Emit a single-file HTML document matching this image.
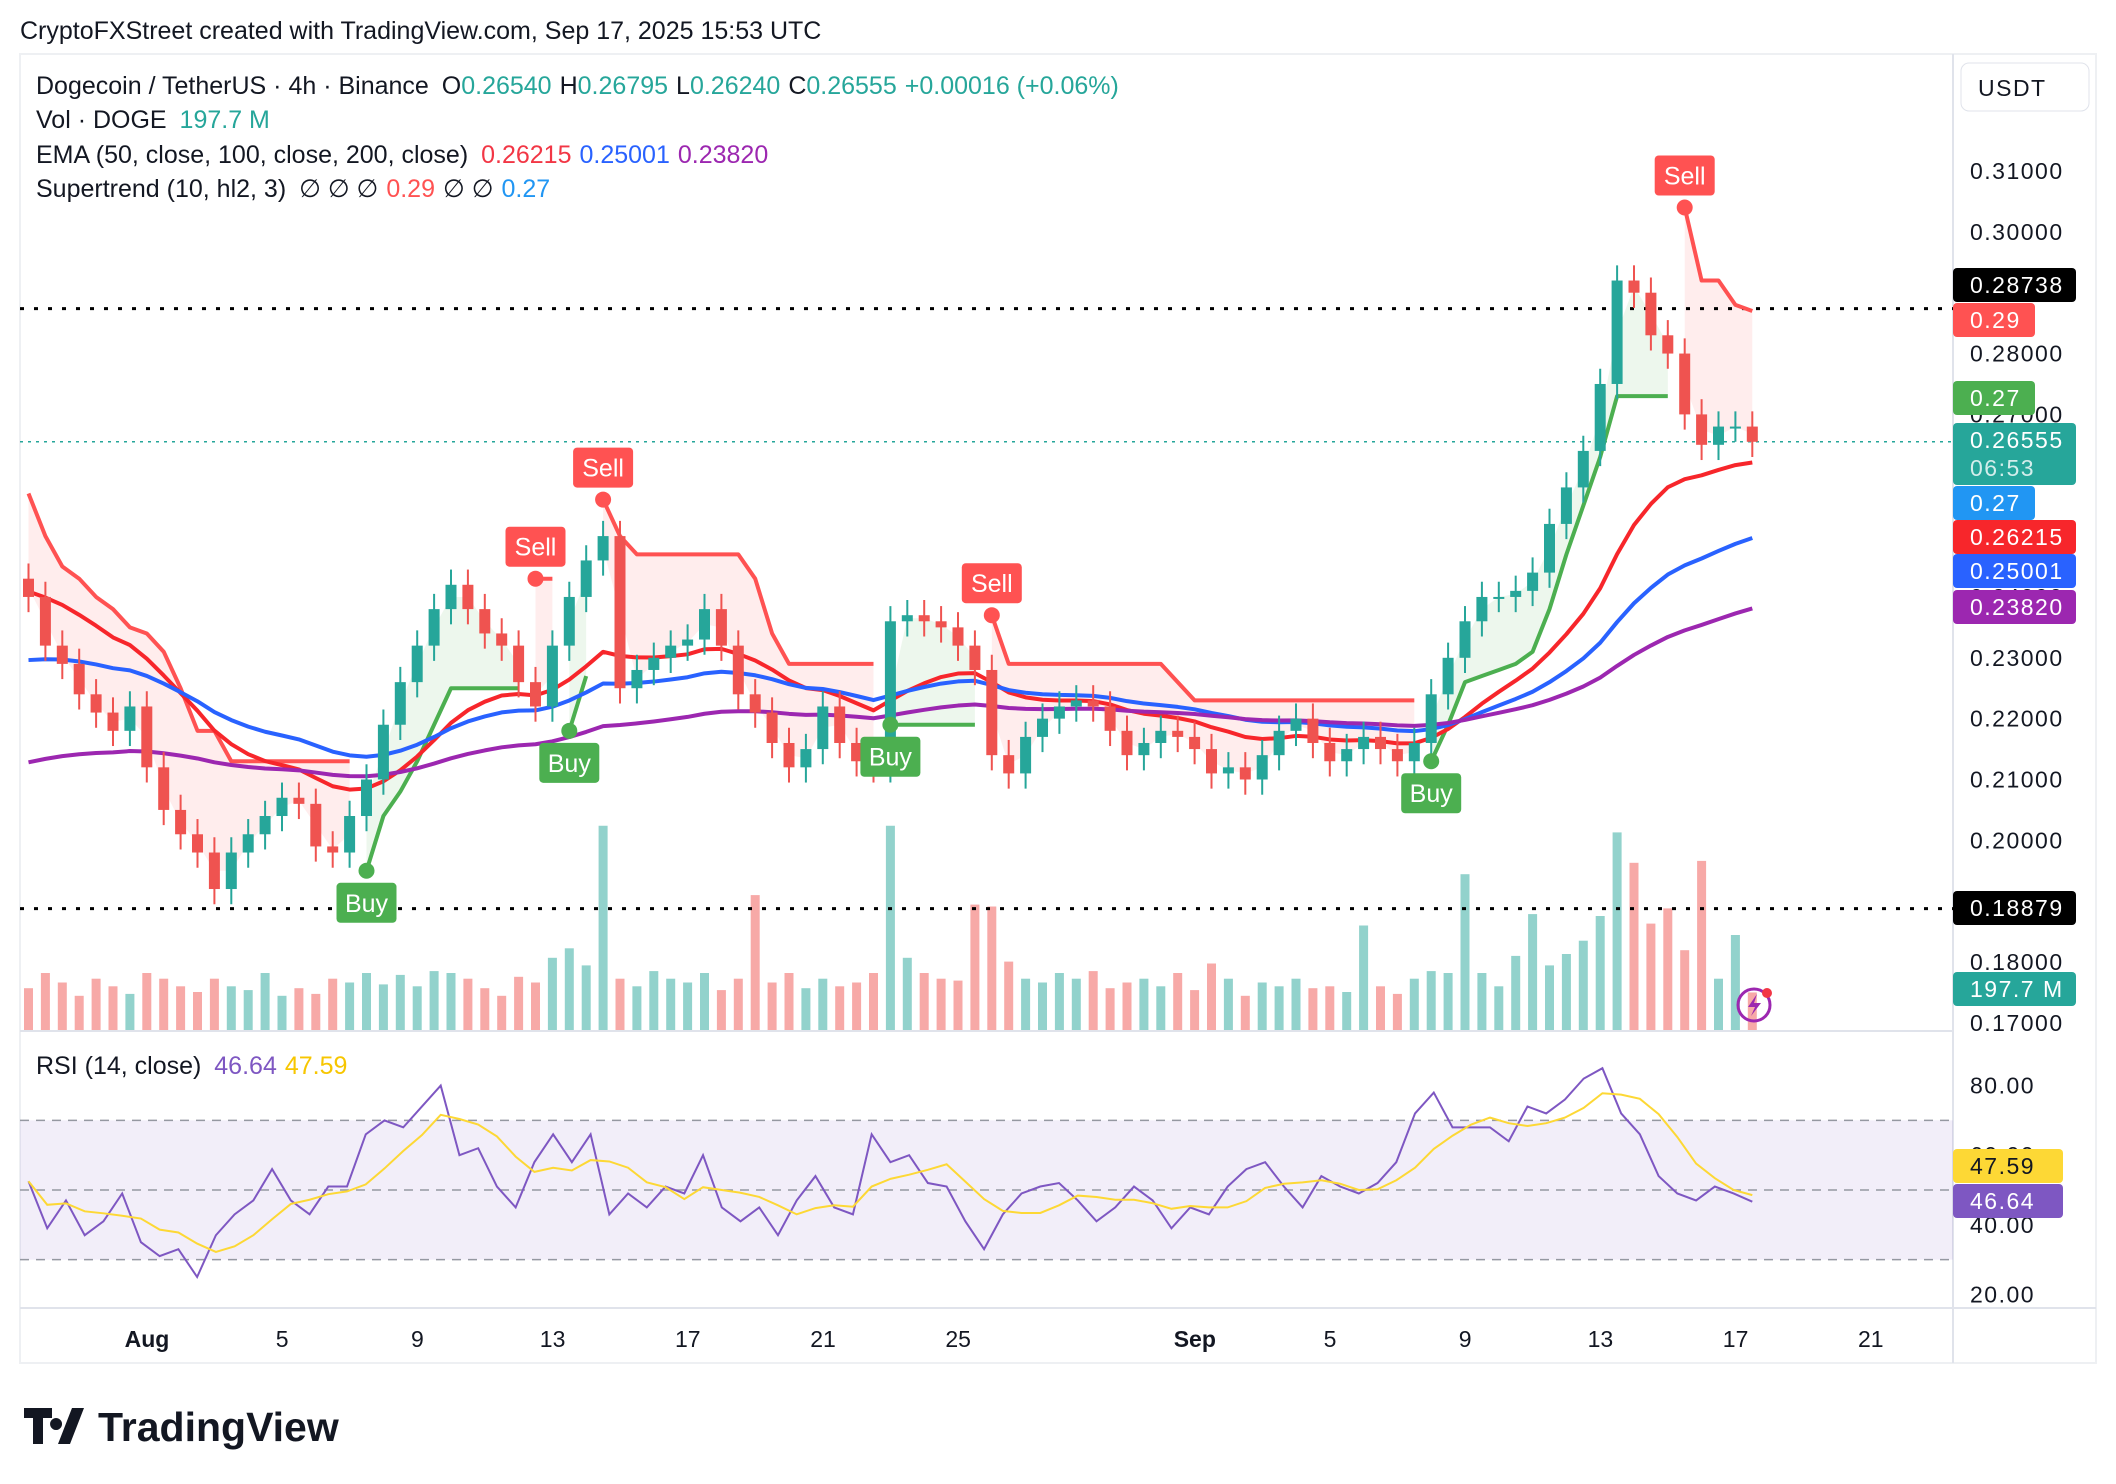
<!DOCTYPE html>
<html><head><meta charset="utf-8"><style>
html,body{margin:0;padding:0;background:#fff;}
svg{display:block;font-family:"Liberation Sans",sans-serif;}
</style></head><body>
<svg id="chart" width="2116" height="1484" viewBox="0 0 2116 1484">
<text x="20" y="39" font-size="25" fill="#131722">CryptoFXStreet created with TradingView.com, Sep 17, 2025 15:53 UTC</text>
<rect x="20" y="54" width="2076" height="1309" fill="#fff" stroke="#eef0f3" stroke-width="2"/>
<line x1="1953" y1="54" x2="1953" y2="1363" stroke="#e0e3eb" stroke-width="2"/>
<line x1="20" y1="1031" x2="1953" y2="1031" stroke="#e0e3eb" stroke-width="2"/>
<line x1="20" y1="1308" x2="2096" y2="1308" stroke="#e0e3eb" stroke-width="2"/>
<g id="rsiBg"></g>
<g id="vol"></g>
<g id="stFill"></g>
<g id="lines"></g>
<g id="candles"></g>
<g id="sig"></g>
<g id="rsi"></g>
<g id="axis"></g>
<g id="legend" font-size="25">
<text x="36" y="94" fill="#131722">Dogecoin / TetherUS · 4h · Binance <tspan dx="6">O</tspan><tspan fill="#26a69a">0.26540</tspan><tspan dx="8">H</tspan><tspan fill="#26a69a">0.26795</tspan><tspan dx="8">L</tspan><tspan fill="#26a69a">0.26240</tspan><tspan dx="8">C</tspan><tspan fill="#26a69a">0.26555</tspan><tspan dx="8" fill="#26a69a">+0.00016 (+0.06%)</tspan></text>
<text x="36" y="128" fill="#131722">Vol · DOGE <tspan dx="6" fill="#26a69a">197.7 M</tspan></text>
<text x="36" y="163" fill="#131722">EMA (50, close, 100, close, 200, close) <tspan dx="6" fill="#f23645">0.26215</tspan><tspan dx="8" fill="#2962ff">0.25001</tspan><tspan dx="8" fill="#9c27b0">0.23820</tspan></text>
<text x="36" y="197" fill="#131722">Supertrend (10, hl2, 3) <tspan dx="6">∅ ∅ ∅</tspan><tspan dx="8" fill="#ff5252">0.29</tspan><tspan dx="8">∅ ∅</tspan><tspan dx="8" fill="#2196f3">0.27</tspan></text>
<text x="36" y="1074" fill="#131722">RSI (14, close) <tspan dx="6" fill="#7e57c2">46.64</tspan><tspan dx="8" fill="#f7c600">47.59</tspan></text>
</g>
<g>
<rect x="1961" y="63" width="128" height="48" rx="8" fill="#fff" stroke="#e0e3eb"/>
<text x="1978" y="96" font-size="23" letter-spacing="1.5" fill="#131722">USDT</text>
</g>
<g>
<path d="M24 1408h28v10h-9v26h-10v-26h-9z M56 1418a6 6 0 1 0 0.1 0z M72 1408h12l-14 36h-12z" fill="#131722"/>
<text x="98" y="1441" font-size="41" font-weight="bold" fill="#131722">TradingView</text>
</g>
<g>
<circle cx="1754" cy="1005" r="16" fill="none" stroke="#9c27b0" stroke-width="3"/>
<path d="M1757 994l-9 13h7l-4 9 10-13h-7z" fill="#9c27b0"/>
<circle cx="1767" cy="993" r="5" fill="#f23645"/>
</g>
</svg>
<script>
// ---- data (12h resolution, start Jul 28 06:00) ----
const closes=[0.240,0.232,0.229,0.224,0.221,0.218,0.222,0.212,0.205,0.201,0.198,0.192,0.198,0.201,0.204,0.207,0.206,0.199,0.198,0.204,
0.210,0.219,0.226,0.232,0.238,0.242,0.238,0.234,0.232,0.226,0.222,0.232,0.240,0.246,0.250,0.225,0.228,0.230,0.232,0.233,
0.238,0.232,0.224,0.221,0.216,0.212,0.215,0.222,0.216,0.213,0.212,0.236,0.237,0.236,0.235,0.232,0.228,0.214,0.211,0.217,
0.220,0.222,0.223,0.222,0.218,0.214,0.216,0.218,0.217,0.215,0.211,0.212,0.210,0.214,0.218,0.220,0.216,0.213,0.215,0.217,
0.215,0.213,0.216,0.224,0.230,0.236,0.240,0.240,0.241,0.244,0.252,0.258,0.264,0.275,0.292,0.290,0.283,0.280,0.270,0.265,
0.268,0.268,0.2655];
const firstOpen=0.243;
const volumes=[220,300,250,180,270,230,190,300,270,230,200,270,230,210,300,180,220,190,270,250,
300,240,290,230,310,300,270,220,180,280,250,380,430,340,1075,270,230,310,270,250,
300,210,270,710,250,300,220,270,230,250,300,1075,380,300,270,260,660,650,360,270,
250,300,270,310,220,250,270,230,300,210,350,270,180,250,230,270,220,230,200,550,
230,190,270,310,300,820,300,230,390,610,340,400,470,600,1040,880,560,640,420,890,
270,500,197.7];
const stValues=[0.257,0.250,0.245,0.243,0.240,0.238,0.235,0.234,0.231,0.225,0.218,0.218,0.213,0.213,0.213,0.213,0.213,0.213,0.213,0.213,
0.195,0.204,0.208,0.213,0.219,0.225,0.225,0.225,0.225,0.225,0.243,0.243,0.218,0.227,0.256,0.250,0.247,0.247,0.247,0.247,
0.247,0.247,0.247,0.243,0.234,0.229,0.229,0.229,0.229,0.229,0.229,0.219,0.219,0.219,0.219,0.219,0.219,0.237,0.229,0.229,
0.229,0.229,0.229,0.229,0.229,0.229,0.229,0.229,0.226,0.223,0.223,0.223,0.223,0.223,0.223,0.223,0.223,0.223,0.223,0.223,
0.223,0.223,0.223,0.213,0.219,0.226,0.227,0.228,0.229,0.231,0.238,0.247,0.255,0.263,0.273,0.273,0.273,0.273,0.304,0.292,
0.292,0.288,0.287];
const stUp=[0,0,0,0,0,0,0,0,0,0,0,0,0,0,0,0,0,0,0,0,
1,1,1,1,1,1,1,1,1,1,0,0,1,1,0,0,0,0,0,0,
0,0,0,0,0,0,0,0,0,0,0,1,1,1,1,1,1,0,0,0,
0,0,0,0,0,0,0,0,0,0,0,0,0,0,0,0,0,0,0,0,
0,0,0,1,1,1,1,1,1,1,1,1,1,1,1,1,1,1,0,0,
0,0,0];
const rsiValues=[52.5,39,47,37,41,49,35,31,33,25,37,43,47,56,47,43,51,51,66,70,68,74,80,60,62,51,45,58,66,58,66,43,49,45,51,49,60,45,41,45,37,47,54,45,43,66,58,60,52,51,41,33,43,49,51,52,47,41,45,51,47,39,45,43,51,56,58,51,45,54,51,49,52,58,72,78,68,68,68,64,74,72,76,82,85,72,66,54,49,47,51,49,46.64];
const priceTicks=[0.31,0.30,0.29,0.28,0.27,0.26,0.25,0.24,0.23,0.22,0.21,0.20,0.19,0.18,0.17];
const rsiTicks=[80,60,40,20];
const timeLabels=["Aug","5","9","13","17","21","25","Sep","5","9","13","17","21"];
const timeDays=[0,4,8,12,16,20,24,31,35,39,43,47,51];
const levels=[0.28738,0.18879];
const emaPeriods=[17,34,67];
const emaSeeds=[0.241,0.229,0.212];
const emaColors=["#f7262b","#2962ff","#9c27b0"];

// ---- axis functions ----
const NS="http://www.w3.org/2000/svg";
const xOf=i=>28.5+i*16.9;
const yOf=p=>171+(0.31-p)*6085;
const dayX=d=>147+d*33.8;
const rY=v=>1190-(v-50)*3.48;
const vH=v=>v*0.19;
function mk(tag,attrs,parent){const e=document.createElementNS(NS,tag);for(const k in attrs)e.setAttribute(k,attrs[k]);parent.appendChild(e);return e;}
const G=id=>document.getElementById(id);
const n=closes.length;
const opens=closes.map((c,i)=>i===0?firstOpen:closes[i-1]);

const rb=G('rsiBg');
let r=mk('rect',{x:20,y:rY(70),width:1933,height:rY(30)-rY(70),fill:'rgba(126,87,194,0.1)'},rb);


[70,50,30].forEach(v=>{const l=mk('line',{x1:20,x2:1953,y1:rY(v),y2:rY(v),stroke:'#9598a1','stroke-dasharray':'9 7','stroke-width':1.5},rb);

});

const vg=G('vol');
volumes.forEach((v,i)=>{const up=closes[i]>=opens[i];
const b=mk('rect',{x:xOf(i)-4.5,y:1030-vH(v),width:9,height:vH(v),fill:up?'rgba(38,166,154,0.5)':'rgba(239,83,80,0.5)'},vg);

});

const lg=G('lines');
levels.forEach(p=>{const l=mk('line',{x1:20,x2:1953,y1:yOf(p),y2:yOf(p),stroke:'#000','stroke-width':3,'stroke-dasharray':'4 10'},lg);

});
let lp=mk('line',{x1:20,x2:1953,y1:yOf(closes[n-1]),y2:yOf(closes[n-1]),stroke:'#26a69a','stroke-width':1.5,'stroke-dasharray':'3 5'},lg);



const sf=G('stFill');
let segs=[];let cur=null;
for(let i=0;i<n;i++){if(!cur||cur.up!==stUp[i]){cur={up:stUp[i],idx:[]};segs.push(cur);}cur.idx.push(i);}
segs.forEach(s=>{
 const top=s.idx.map(i=>xOf(i)+','+yOf(stValues[i])).join(' ');
 const bot=s.idx.slice().reverse().map(i=>xOf(i)+','+yOf((closes[i]+opens[i])/2)).join(' ');
 const f=mk('polygon',{points:top+' '+bot,fill:s.up?'rgba(76,175,80,0.1)':'rgba(255,82,82,0.1)'},sf);
 
 
 const pl=mk('polyline',{points:top,fill:'none',stroke:s.up?'#4caf50':'#ff5252','stroke-width':4,'stroke-linejoin':'round'},lg);
 
 
});

emaPeriods.forEach((per,k)=>{const a=2/(per+1);let e=emaSeeds[k];const pts=[];
 closes.forEach((c,i)=>{e=e+a*(c-e);pts.push(xOf(i)+','+yOf(e));});
 const pl=mk('polyline',{points:pts.join(' '),fill:'none',stroke:emaColors[k],'stroke-width':4,'stroke-linejoin':'round'},lg);
 
 });

const cg=G('candles');
closes.forEach((c,i)=>{const o=opens[i];const up=c>=o;const col=up?'#26a69a':'#ef5350';
 const hi=Math.max(o,c)+0.0025,lo=Math.min(o,c)-0.0025;
 const w=mk('line',{x1:xOf(i),x2:xOf(i),y1:yOf(hi),y2:yOf(lo),stroke:col,'stroke-width':2},cg);
 
 
 const b=mk('rect',{x:xOf(i)-5.5,y:yOf(Math.max(o,c)),width:11,height:Math.max(2,Math.abs(yOf(o)-yOf(c))),fill:col},cg);
 
 });

const sg=G('sig');
for(let i=1;i<n;i++){if(stUp[i]!==stUp[i-1]){const buy=stUp[i]===1;const x=xOf(i),y=yOf(stValues[i]);const col=buy?'#4caf50':'#ff5252';
 const g=mk('g',{},sg);
 
 
 mk('circle',{cx:x,cy:y,r:8,fill:col},g);
 const by=buy?y+12:y-52;
 mk('rect',{x:x-30,y:by,width:60,height:40,rx:4,fill:col},g);
 const t=mk('text',{x:x,y:by+29,'font-size':25,fill:'#fff','text-anchor':'middle'},g);t.textContent=buy?'Buy':'Sell';}}

const rg=G('rsi');
const m=rsiValues.length;const rx=j=>xOf(0)+j*(xOf(n-1)-xOf(0))/(m-1);
let rl=mk('polyline',{points:rsiValues.map((v,j)=>rx(j)+','+rY(v)).join(' '),fill:'none',stroke:'#7e57c2','stroke-width':2},rg);


const ma=rsiValues.map((v,j)=>{const s=rsiValues.slice(Math.max(0,j-4),j+1);return s.reduce((a,b)=>a+b,0)/s.length;});
let ml=mk('polyline',{points:ma.map((v,j)=>rx(j)+','+rY(v)).join(' '),fill:'none',stroke:'#fdd835','stroke-width':2},rg);



const ag=G('axis');
priceTicks.forEach(p=>{const t=mk('text',{x:1970,y:yOf(p)+8,'font-size':23,'letter-spacing':1.5,fill:'#131722'},ag);t.textContent=p.toFixed(5);
 
 });
rsiTicks.forEach(v=>{const t=mk('text',{x:1970,y:rY(v)+8,'font-size':23,'letter-spacing':1.5,fill:'#131722'},ag);t.textContent=v.toFixed(2);
 
 });
timeLabels.forEach((s,k)=>{const t=mk('text',{x:dayX(timeDays[k]),y:1347,'font-size':23,fill:'#131722','text-anchor':'middle','font-weight':s.length>2?'bold':'normal'},ag);t.textContent=s;
 
 });
const badges=[["0.28738",285,"#000","#fff"],["0.29",320,"#ff5252","#fff",true],["0.27",398,"#4caf50","#fff",true],["0.26555\n06:53",454,"#26a69a","#fff"],["0.27",503,"#2196f3","#fff",true],["0.26215",537,"#f7262b","#fff"],["0.25001",571,"#2962ff","#fff"],["0.23820",607,"#9c27b0","#fff"],["0.18879",908,"#000","#fff"],["197.7 M",989,"#26a69a","#fff"],["47.59",1166,"#fdd835","#131722"],["46.64",1201,"#7e57c2","#fff"]];
badges.forEach(b=>{const two=b[0].includes('\n');const h=two?62:34;const w=b[4]?82:(b[0].length<=5?110:123);
 const g=mk('g',{},ag);
 
 
 mk('rect',{x:1953,y:b[1]-h/2,width:w,height:h,rx:4,fill:b[2]},g);
 b[0].split('\n').forEach((s,k)=>{const t=mk('text',{x:1970,y:b[1]-h/2+25+k*28,'font-size':23,'letter-spacing':1.5,fill:k?'rgba(255,255,255,0.8)':b[3]},g);t.textContent=s;});});
</script>
</body></html>
